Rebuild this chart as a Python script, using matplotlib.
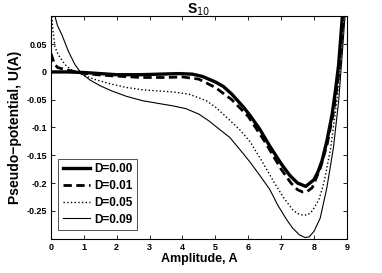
import matplotlib
matplotlib.use('Agg')
import matplotlib.pyplot as plt

plt.rcParams['font.family'] = ['Liberation Sans', 'DejaVu Sans']

# values
a_d000 = [0.0, 0.5, 1.0, 1.5, 2.0, 2.7, 3.3, 3.9, 4.3, 4.6, 5.0, 5.24, 5.5, 5.85, 6.05, 6.35,
          6.66, 7.0, 7.26, 7.5, 7.75, 8.0, 8.12, 8.24, 8.39, 8.55, 8.65, 8.75, 8.85, 8.9]
u_d000 = [0.0, 0.0, -0.001, -0.003, -0.005, -0.005, -0.004, -0.003, -0.004, -0.008, -0.018,
          -0.026, -0.040, -0.063, -0.078, -0.103, -0.134, -0.165, -0.186, -0.200, -0.206,
          -0.194, -0.180, -0.161, -0.125, -0.077, -0.035, 0.013, 0.09, 0.13]

a_d001 = [0.0, 0.1, 0.2, 0.43, 0.7, 0.93, 1.4, 1.84, 2.76, 3.5, 4.0, 4.5, 5.0, 5.5, 6.0, 6.5,
          7.0, 7.3, 7.5, 7.65, 7.8, 7.95, 8.2, 8.4, 8.6, 8.75, 8.88, 8.93]
u_d001 = [0.033, 0.015, 0.008, 0.004, 0.001, -0.002, -0.005, -0.007, -0.010, -0.010, -0.009,
          -0.013, -0.028, -0.050, -0.080, -0.125, -0.175, -0.200, -0.212, -0.216, -0.215,
          -0.208, -0.172, -0.130, -0.070, -0.005, 0.09, 0.13]

a_d005 = [0.01, 0.05, 0.12, 0.22, 0.43, 0.63, 0.93, 1.3, 1.84, 2.3, 2.76, 3.2, 3.71, 4.2, 4.73,
          5.0, 5.44, 5.74, 6.05, 6.45, 6.8, 7.06, 7.35, 7.5, 7.67, 7.82, 7.95, 8.15, 8.3,
          8.5, 8.7, 8.8, 8.92]
u_d005 = [0.12, 0.08, 0.045, 0.031, 0.013, 0.003, -0.004, -0.013, -0.022, -0.028, -0.032,
          -0.034, -0.036, -0.040, -0.052, -0.063, -0.087, -0.104, -0.125, -0.164, -0.200,
          -0.225, -0.248, -0.255, -0.258, -0.257, -0.250, -0.230, -0.200, -0.140, -0.050,
          0.010, 0.10]

a_d009 = [0.05, 0.12, 0.2, 0.33, 0.53, 0.73, 0.93, 1.2, 1.5, 1.84, 2.3, 2.8, 3.3, 3.7, 4.1,
          4.5, 4.8, 5.14, 5.44, 5.75, 6.05, 6.35, 6.66, 6.9, 7.17, 7.35, 7.55, 7.72, 7.85,
          8.0, 8.19, 8.39, 8.59, 8.75, 8.85, 8.95]
u_d009 = [0.14, 0.10, 0.083, 0.067, 0.037, 0.013, -0.003, -0.015, -0.025, -0.034, -0.044,
          -0.052, -0.057, -0.061, -0.066, -0.076, -0.088, -0.104, -0.118, -0.140, -0.162,
          -0.186, -0.212, -0.240, -0.266, -0.281, -0.293, -0.298, -0.297, -0.287, -0.263,
          -0.209, -0.137, -0.053, 0.025, 0.105]

labels = ['D=0.00', 'D=0.01', 'D=0.05', 'D=0.09']

fig = plt.figure(figsize=(3.82, 2.73), dpi=100)
ax = fig.add_axes([0.1335, 0.126, 0.7745, 0.814])

ax.plot(a_d000, u_d000, 'k-', lw=2.4, label=labels[0])
ax.plot(a_d001, u_d001, 'k--', lw=2.0, dashes=(3, 1.6), label=labels[1])
ax.plot(a_d005, u_d005, 'k:', lw=1.0, label=labels[2])
ax.plot(a_d009, u_d009, 'k-', lw=0.8, label=labels[3])

ax.set_xlim(0, 9)
ax.set_ylim(-0.3, 0.1)
ax.set_xticks(range(10))
ax.set_yticks([-0.25, -0.2, -0.15, -0.1, -0.05, 0, 0.05])
ax.set_yticklabels(['-0.25', '-0.2', '-0.15', '-0.1', '-0.05', '0', '0.05'])
ax.tick_params(direction='in', top=True, right=True, length=3, width=0.6,
               labelsize=6.5, pad=3)
for t in ax.get_xticklabels() + ax.get_yticklabels():
    t.set_fontweight('bold')
for s in ax.spines.values():
    s.set_linewidth(0.8)

ax.set_xlabel('Amplitude, A', fontsize=9, fontweight='bold', labelpad=1)
ax.set_ylabel('Pseudo\u2212potential, U(A)', fontsize=10, fontweight='bold', labelpad=3)
ax.set_title('S$_{10}$', fontsize=10, fontweight='bold', pad=2)

leg = ax.legend(loc='lower left', bbox_to_anchor=(0.025, 0.04),
                prop={'weight': 'bold', 'size': 8.5}, fancybox=False, edgecolor='k',
                handlelength=2.3, handletextpad=0.4, borderpad=0.35, labelspacing=0.4,
                borderaxespad=0)
leg.get_frame().set_linewidth(0.6)

fig.savefig('out.png', dpi=100)
